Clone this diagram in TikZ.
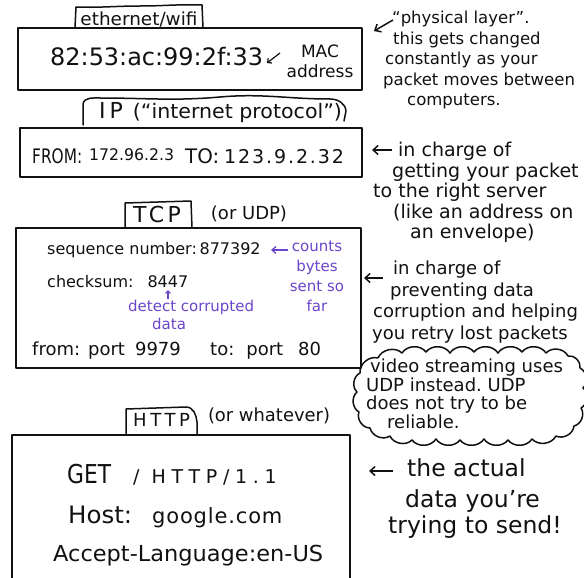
\documentclass[tikz,border=0pt]{standalone}
\usepackage{fontspec}
\setmainfont{DejaVu Sans}
\usetikzlibrary{arrows.meta}
\definecolor{ink}{HTML}{111111}
\definecolor{note}{HTML}{6A45C9}
\newcommand\fsz[2]{\fontsize{#1}{#2}\selectfont}
% stretch a piece of text horizontally to a given width
\newcommand\wide[2]{\resizebox{#1}{\height}{#2}}
% open up the letter spacing
\newcommand\track[2]{{\addfontfeature{LetterSpace=#1}#2}}

\begin{document}
\begin{tikzpicture}[x=1pt,y=-1pt,
  frame/.style={draw=ink,line width=1.7pt,line join=round},
  tabline/.style={draw=ink,line width=1.5pt,line cap=round,line join=round},
  lbl/.style={inner sep=0pt,text=ink},
  purp/.style={inner sep=0pt,text=note},
  arr/.style={draw=ink,line width=1.5pt,-{Straight Barb[length=5pt,width=9pt]}},
  parr/.style={draw=note,line width=1.3pt,-{Straight Barb[length=4pt,width=7pt]}},
  puff/.style={bend left=55},
]
\useasboundingbox (0,0) rectangle (584,578);

% ---------- ethernet / wifi layer ----------
\draw[tabline] (75,28) -- (76,7) to[out=-2,in=180] (140,6) to[out=0,in=178] (202,5) -- (203,28);
\node[lbl,font=\fsz{18}{20}] (ethtab) at (139,19) {\wide{117pt}{ethernet/wifi}};
\draw[frame] (18,28) rectangle (362,90);
\node[lbl,font=\fsz{24}{26},anchor=west] (mac) at (50,57) {\wide{213pt}{82:53:ac:99:2f:33}};
\node[lbl,font=\fsz{17}{20},align=center] (macnote) at (320,61) {MAC\\address};
\coordinate (macarrS) at (280,53);
\coordinate (macarrE) at (267,63);
\draw[draw=ink,line width=1.2pt,-{Straight Barb[length=3pt,width=6pt]}] (macarrS) -- (macarrE);

\node[lbl,font=\fsz{16.5}{20.5},align=left,anchor=north west] (physnote) at (383,11)
  {\hspace*{9pt}“physical layer”.\\\hspace*{10pt}this gets changed\\\hspace*{2pt}constantly as your\\packet moves between\\\hspace*{24pt}computers.};
\coordinate (physS) at (393,20);
\coordinate (physE) at (374,31);
\draw[arr] (physS) -- (physE);

% ---------- IP layer ----------
\draw[tabline] (83,125) -- (83,104) to[out=80,in=180] (100,98) to[out=0,in=185] (220,97)
  to[out=5,in=180] (330,99) to[out=0,in=95] (346,111) -- (344,121);
\node[lbl,font=\fsz{20}{22},anchor=west] (iptab) at (99,113)
  {{\fsz{22}{24}I\hspace{4pt}P}\hspace{10pt}\wide{209pt}{(“internet protocol”)}};
\draw[frame] (20,128) rectangle (362,177);
\node[lbl,font=\fsz{20}{22},anchor=base west] (ipfrom) at (32,163)
  {\wide{50pt}{FROM:}\hspace{7pt}\raisebox{3pt}{\fsz{16}{18}\wide{85pt}{172.96.2.3}}\hspace{11pt}\wide{34pt}{TO:}\hspace{5pt}\track{10}{\fsz{19}{22}123.9.2.32}};

\node[lbl,font=\fsz{19}{20.5},align=left,anchor=north west] (ipnote) at (373,142)
  {\hspace*{25pt}in charge of\\\hspace*{19pt}getting your packet\\to the right server\\\hspace*{20pt}(like an address on\\\hspace*{37pt}an envelope)};
\coordinate (ipS) at (392,150);
\coordinate (ipE) at (372,150);
\draw[arr] (ipS) -- (ipE);

% ---------- TCP layer ----------
\draw[tabline] (125,228) -- (125,203) -- (191,201) -- (192,228);
\node[lbl,font=\fsz{22}{24},anchor=west] (tcptab) at (133,214) {\track{16}{TCP}};
\node[lbl,font=\fsz{18}{20}] (tcpalt) at (249,214) {(or UDP)};
\draw[frame] (16,228) rectangle (361,368);
\node[lbl,font=\fsz{16}{20},anchor=west] (seq) at (47,250) {sequence number:\,877392};
\node[lbl,font=\fsz{16}{20},anchor=west] (chk) at (47,282) {checksum:\hspace{14pt}8447};
\node[purp,font=\fsz{15}{20},align=center,anchor=north] (counts) at (317,241) {counts\\bytes\\sent so\\far};
\coordinate (cntS) at (288,250);
\coordinate (cntE) at (271,250);
\draw[parr] (cntS) -- (cntE);
\node[purp,font=\fsz{15}{17.5},align=left,anchor=north west] (detect) at (128,300)
  {detect corrupted\\\hspace*{24pt}data};
\coordinate (detS) at (168,299);
\coordinate (detE) at (168,290);
\draw[draw=note,line width=1.1pt,-{Straight Barb[length=2.5pt,width=5pt]}] (detS) -- (detE);
\node[lbl,font=\fsz{18}{20},anchor=west] (portfrom) at (32,351) {from:\hspace{8pt}port\hspace{10pt}9979};
\node[lbl,font=\fsz{18}{20},anchor=west] (portto) at (210,351) {to:\hspace{12pt}port\hspace{15pt}80};

\node[lbl,font=\fsz{18}{21.5},align=left,anchor=north west] (tcpnote) at (372,261)
  {\hspace*{21pt}in charge of\\\hspace*{18pt}preventing data\\\hspace*{1pt}corruption and helping\\you retry lost packets};
\coordinate (tcpS) at (383,278);
\coordinate (tcpE) at (364,278);
\draw[arr] (tcpS) -- (tcpE);

% ---------- UDP remark in a cloud ----------
\draw[draw=ink,line width=1.5pt,line join=round]
  (378,358) to[puff] (402,353) to[puff] (426,352) to[puff] (450,353) to[puff] (474,352)
  to[puff] (498,353) to[puff] (522,352) to[puff] (546,353) to[puff] (568,356)
  to[puff] (580,368) to[puff] (583,388) to[puff] (581,408) to[puff] (574,426)
  to[puff] (556,436) to[puff] (532,439) to[puff] (508,440) to[puff] (484,439)
  to[puff] (460,440) to[puff] (436,439) to[puff] (412,440) to[puff] (390,436)
  to[puff] (370,428) to[puff] (359,412) to[puff] (357,392) to[puff] (360,373)
  to[puff] (378,358);
\node[lbl,font=\fsz{18}{18.5},align=left,anchor=north west] (udpnote) at (366,359)
  {\hspace*{4pt}video streaming uses\\UDP instead.\ UDP\\does not try to be\\\hspace*{21pt}reliable.};

% ---------- HTTP layer ----------
\draw[tabline] (126,435) -- (126,409) -- (186,407) to[out=0,in=95] (197,422) -- (197,435);
\node[lbl,font=\fsz{18}{20},anchor=west] (httptab) at (133,420) {\track{20}{HTTP}};
\node[lbl,font=\fsz{18}{20}] (httpalt) at (269,416) {\wide{122pt}{(or whatever)}};
\draw[frame] (12,580) -- (12,435) -- (350,435) -- (350,580);
\node[lbl,font=\fsz{26}{28},anchor=base west] (get) at (67,483)
  {\wide{44pt}{GET}\hspace{22pt}{\fsz{19}{20}/\hspace{12pt}\track{30}{HTTP/1.1}}};
\node[lbl,font=\fsz{24}{26},anchor=base west] (host) at (68,523)
  {\wide{64pt}{Host:}\hspace{20pt}{\fsz{21}{24}\track{4}{google.com}}};
\node[lbl,font=\fsz{22}{26},anchor=base west] (accept) at (53,561) {\wide{270pt}{Accept-Language:en-US}};

\node[lbl,font=\fsz{23.5}{26},align=left,anchor=north west] (httpnote) at (388,458)
  {\hspace*{19pt}the actual\\[5pt]\hspace*{17pt}data you’re\\trying to send!};
\coordinate (httpS) at (393,471);
\coordinate (httpE) at (369,471);
\draw[arr] (httpS) -- (httpE);
\end{tikzpicture}
\end{document}
